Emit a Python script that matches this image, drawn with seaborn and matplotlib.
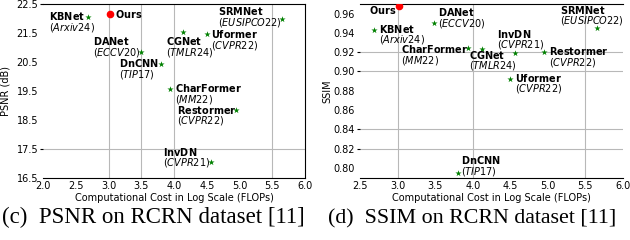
import numpy as np
import matplotlib
matplotlib.use("Agg")
import matplotlib.pyplot as plt
import seaborn as sns
import pandas as pd

# Data
methods = ["KBNet", "DANet", "DnCNN", "CharFormer", "CGNet", "Uformer", "InvDN", "Restormer", "SRMNet"]
venues = ["Arxiv24", "ECCV20", "TIP17", "MM22", "TMLR24", "CVPR22", "CVPR21", "CVPR22", "EUSIPCO22"]
log_flops = [2.68, 3.49, 3.80, 3.94, 4.13, 4.50, 4.56, 4.95, 5.65]
psnr = [22.05, 20.84, 20.43, 19.56, 21.53, 21.45, 17.02, 18.82, 21.98]
ssim = [0.9426, 0.9502, 0.7948, 0.9245, 0.9238, 0.8926, 0.9190, 0.9201, 0.9446]

ours_flops = 3.02
ours_psnr = 22.15
ours_ssim = 0.9675

psnr_ticks = [16.5, 17.5, 18.5, 19.5, 20.5, 21.5, 22.5]
ssim_ticks = [0.80, 0.82, 0.84, 0.86, 0.88, 0.90, 0.92, 0.94, 0.96]

df = pd.DataFrame({"method": methods, "venue": venues, "flops": log_flops,
                   "psnr": psnr, "ssim": ssim})

# label placement (pixel offsets of the left/centre of each text block)
psnr_offsets = {"KBNet": (-39, -5), "DANet": (-48, 5), "DnCNN": (-42, -5),
                "CharFormer": (5, -5), "CGNet": (-17, -15), "Uformer": (4, -5.5),
                "InvDN": (-48, 5), "Restormer": (-59, -5), "SRMNet": (-64, 2)}
ssim_offsets = {"KBNet": (5, -4), "DANet": (4, 5), "DnCNN": (3, 7),
                "CharFormer": (-67, -7), "CGNet": (-13, -12), "Uformer": (5, -5),
                "InvDN": (-18, 14), "Restormer": (5, -5), "SRMNet": (-37, 13)}

sns.set_style("white", {"text.color": "black", "axes.labelcolor": "black",
                        "xtick.color": "black", "ytick.color": "black"})
plt.rcParams["font.family"] = ["DejaVu Sans"]
plt.rcParams["mathtext.fontset"] = "dejavusans"

fig, axs = plt.subplots(1, 2, figsize=(6.3, 2.4), dpi=100)
W, H = 630, 240
axs[0].set_position([43 / W, 1 - 177.5 / H, 262 / W, 173.5 / H])
axs[1].set_position([360 / W, 1 - 177.5 / H, 263 / W, 173.5 / H])


def draw_panel(ax, metric, ours_val, offsets, ours_offset, xlim, ylim, xticks, yticks,
               vgrid, hgrid, marked, ylabel, show_right):
    for x in vgrid:
        ax.axvline(x, color="#b8b8b8", lw=0.8, zorder=0)
    for y in hgrid:
        ax.axhline(y, color="#b8b8b8", lw=0.8, zorder=0)

    sns.scatterplot(data=df, x="flops", y=metric, marker="*", color="green",
                    s=22, linewidth=0, ax=ax, zorder=3)
    ax.scatter([ours_flops], [ours_val], color="red", s=20, zorder=4)

    for _, row in df.iterrows():
        label = rf"$\bf{{{row['method']}}}$" + "\n" + rf"$\it{{({row['venue']})}}$"
        ax.annotate(label, (row["flops"], row[metric]), xytext=offsets[row["method"]],
                    textcoords="offset pixels", ha="left", va="center", color="black",
                    multialignment="left", fontsize=7, linespacing=0.82)
    ax.annotate(r"$\bf{Ours}$", (ours_flops, ours_val), xytext=ours_offset, color="black",
                textcoords="offset pixels", ha="left", va="center", fontsize=7)

    ax.set_xlim(xlim)
    ax.set_ylim(ylim)
    ax.set_xticks(xticks)
    ax.set_yticks(yticks)
    ax.tick_params(axis="both", labelsize=7, colors="black")
    ax.tick_params(axis="x", length=0, pad=2.5)
    ax.tick_params(axis="y", length=2.5, width=0.8, pad=1)
    for tick, val in zip(ax.yaxis.get_major_ticks(), yticks):
        tick.tick1line.set_visible(any(abs(val - m) < 1e-6 for m in marked))

    ax.set_xlabel("Computational Cost in Log Scale (FLOPs)", fontsize=7, labelpad=1.5,
                  color="black")
    ax.set_ylabel(ylabel, fontsize=7, color="black")

    ax.spines["left"].set_visible(False)
    ax.spines["right"].set_visible(show_right)
    for s in ["top", "bottom", "right"]:
        ax.spines[s].set_color("black")
        ax.spines[s].set_linewidth(0.8)


draw_panel(axs[0], "psnr", ours_psnr, psnr_offsets, (5, 0), (2.0, 6.0), (16.5, 22.5),
           np.arange(2.0, 6.01, 0.5), psnr_ticks, [3.0, 3.5, 4.0, 5.5], [17.5],
           [17.5, 22.5], "PSNR (dB)", True)
draw_panel(axs[1], "ssim", ours_ssim, ssim_offsets, (-30, -4), (2.5, 6.0), (0.79, 0.97),
           np.arange(2.5, 6.01, 0.5), ssim_ticks, [3.0, 4.0, 5.5], [0.92, 0.90, 0.84, 0.82],
           [0.92, 0.90, 0.84, 0.82], "SSIM", False)
axs[1].yaxis.labelpad = 1

# sub-figure captions
fig.text(2 / W, 1 - 223.3 / H, "(c)  PSNR on RCRN dataset [11]", family="Liberation Serif",
         fontsize=16.5, ha="left", va="baseline", color="black")
fig.text(328 / W, 1 - 223.3 / H, "(d)  SSIM on RCRN dataset [11]", family="Liberation Serif",
         fontsize=15.8, ha="left", va="baseline", color="black")

fig.savefig("out.png", dpi=100)
